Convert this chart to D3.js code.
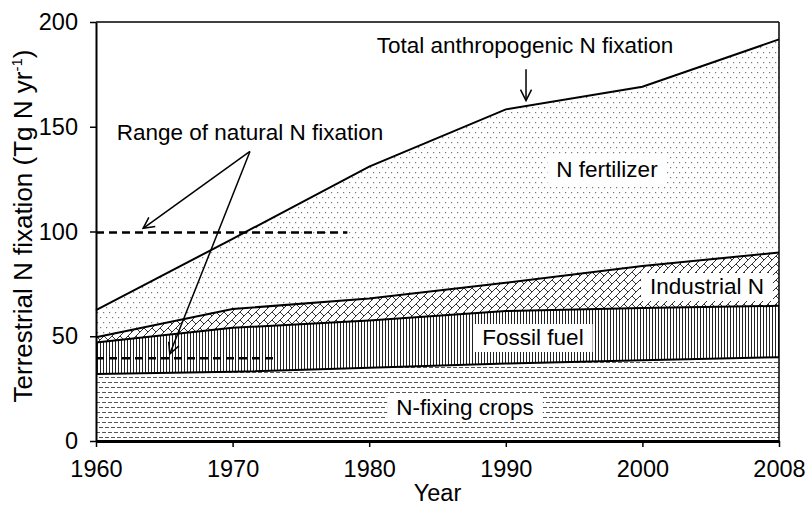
<!DOCTYPE html>
<html>
<head>
<meta charset="utf-8">
<script src="https://cdn.jsdelivr.net/npm/d3@7"></script>
<style>
  html, body { margin: 0; padding: 0; background: #fff; }
  svg { display: block; }
  text { font-family: "Liberation Sans", Arial, sans-serif; fill: #000; }
</style>
</head>
<body>
<svg id="chart" width="806" height="508"></svg>
<script>
// ---------- data ----------
const years = ["1960", "1970", "1980", "1990", "2000", "2008"];
const nFixingCrops = [32, 33, 35, 37, 38.5, 40];
const fossilFuel   = [15, 21, 22.5, 25, 25, 24.5];
const industrialN  = [2.5, 9, 10.5, 13.5, 20, 25.5];
const nFertilizer  = [13, 33.5, 63, 82.8, 85.6, 101.7];
const yTicks = [0, 50, 100, 150, 200];
// natural N fixation range (value, extent in year-index units)
const naturalLevels = [99.5, 39.5];
const naturalExtent = [1.84, 1.33];

// ---------- layout ----------
const svg = d3.select("#chart");
const mLeft = 96, mRight = 779, mTop = 22, mBottom = 441;
const FONT = 22.5, TICKFONT = 23.5, TITLEFONT = 26;

const xi = d3.scaleLinear().domain([0, years.length - 1]).range([mLeft, mRight]);
const y = d3.scaleLinear().domain([0, 200]).range([mBottom, mTop]);

const table = years.map((yr, i) => ({
  i, year: yr,
  crops: nFixingCrops[i], fossil: fossilFuel[i],
  industrial: industrialN[i], fertilizer: nFertilizer[i]
}));
const keys = ["crops", "fossil", "industrial", "fertilizer"];
const stacked = d3.stack().keys(keys)(table);

// ---------- patterns ----------
const defs = svg.append("defs");
const pCrops = defs.append("pattern").attr("id", "pCrops")
  .attr("patternUnits", "userSpaceOnUse").attr("width", 6).attr("height", 10);
pCrops.append("rect").attr("width", 6).attr("height", 10).attr("fill", "#fff");
pCrops.append("line").attr("x1", 0).attr("x2", 4).attr("y1", 2.5).attr("y2", 2.5)
  .attr("stroke", "#555").attr("stroke-width", 1);
pCrops.append("line").attr("x1", 3).attr("x2", 7).attr("y1", 7.5).attr("y2", 7.5)
  .attr("stroke", "#555").attr("stroke-width", 1);
pCrops.append("line").attr("x1", -3).attr("x2", 1).attr("y1", 7.5).attr("y2", 7.5)
  .attr("stroke", "#555").attr("stroke-width", 1);

const pFossil = defs.append("pattern").attr("id", "pFossil")
  .attr("patternUnits", "userSpaceOnUse").attr("width", 3).attr("height", 3);
pFossil.append("rect").attr("width", 3).attr("height", 3).attr("fill", "#fff");
pFossil.append("line").attr("x1", 1.5).attr("x2", 1.5).attr("y1", 0).attr("y2", 3)
  .attr("stroke", "#222").attr("stroke-width", 1);

const pInd = defs.append("pattern").attr("id", "pInd")
  .attr("patternUnits", "userSpaceOnUse").attr("width", 8).attr("height", 8);
pInd.append("rect").attr("width", 8).attr("height", 8).attr("fill", "#fff");
pInd.append("path").attr("d", "M-1,9 L9,-1 M-1,1 L1,-1 M7,9 L9,7 M0,0 L4,4")
  .attr("stroke", "#333").attr("stroke-width", 1).attr("fill", "none");

const pFert = defs.append("pattern").attr("id", "pFert")
  .attr("patternUnits", "userSpaceOnUse").attr("width", 6).attr("height", 10);
pFert.append("rect").attr("width", 6).attr("height", 10).attr("fill", "#fff");
pFert.append("rect").attr("x", 1).attr("y", 2).attr("width", 1.2).attr("height", 1.2).attr("fill", "#777");
pFert.append("rect").attr("x", 4).attr("y", 7).attr("width", 1.2).attr("height", 1.2).attr("fill", "#777");

const fills = { crops: "url(#pCrops)", fossil: "url(#pFossil)", industrial: "url(#pInd)", fertilizer: "url(#pFert)" };

// ---------- areas ----------
const area = d3.area().x(d => xi(d.data.i)).y0(d => y(d[0])).y1(d => y(d[1]));
svg.append("g").selectAll("path").data(stacked).join("path")
  .attr("d", area).attr("fill", d => fills[d.key]).attr("stroke", "none");

const topLine = d3.line().x(d => xi(d.data.i)).y(d => y(d[1]));
svg.append("g").selectAll("path").data(stacked).join("path")
  .attr("d", topLine).attr("fill", "none").attr("stroke", "#000").attr("stroke-width", 2);

// ---------- natural range dashed lines ----------
svg.append("g").selectAll("line").data(naturalLevels).join("line")
  .attr("x1", xi(0)).attr("x2", (d, i) => xi(naturalExtent[i]))
  .attr("y1", d => y(d)).attr("y2", d => y(d))
  .attr("stroke", "#000").attr("stroke-width", 2.5).attr("stroke-dasharray", "8,5");

// ---------- labels ----------
const labels = [
  { text: "N fertilizer", x: 607, y: 177, box: true },
  { text: "Industrial N", x: 707, y: 294, box: true },
  { text: "Fossil fuel", x: 533, y: 345, box: true },
  { text: "N-fixing crops", x: 465, y: 415, box: true },
  { text: "Total anthropogenic N fixation", x: 525, y: 53, box: false },
  { text: "Range of natural N fixation", x: 250, y: 140, box: false }
];
const lg = svg.append("g");
labels.forEach(l => {
  const t = lg.append("text").attr("x", l.x).attr("y", l.y)
    .attr("text-anchor", "middle").attr("font-size", FONT).text(l.text);
  if (l.box) {
    const bb = t.node().getBBox();
    lg.insert("rect", "text").attr("x", bb.x - 9).attr("y", bb.y - 1)
      .attr("width", bb.width + 18).attr("height", bb.height + 3).attr("fill", "#fff");
  }
});

// ---------- arrows ----------
defs.append("marker").attr("id", "arr").attr("viewBox", "-12 -7 14 14")
  .attr("refX", 0).attr("refY", 0).attr("markerWidth", 14).attr("markerHeight", 14)
  .attr("markerUnits", "userSpaceOnUse").attr("orient", "auto")
  .append("path").attr("d", "M-11,-5.5 L0,0 L-11,5.5").attr("fill", "none")
  .attr("stroke", "#000").attr("stroke-width", 1.5);

const arrows = [
  { from: [3.148, 177.5], to: [3.148, 162.5] },
  { from: [1.127, 138.2], to: [0.345, 101.5] },
  { from: [1.127, 138.2], to: [0.54, 41.5] }
];
svg.append("g").selectAll("line").data(arrows).join("line")
  .attr("x1", d => xi(d.from[0])).attr("y1", d => y(d.from[1]))
  .attr("x2", d => xi(d.to[0])).attr("y2", d => y(d.to[1]))
  .attr("stroke", "#000").attr("stroke-width", 1.5).attr("marker-end", "url(#arr)");

// ---------- frame & axes ----------
svg.append("line").attr("x1", mLeft).attr("x2", mRight).attr("y1", mTop).attr("y2", mTop)
  .attr("stroke", "#000").attr("stroke-width", 1.5);
svg.append("line").attr("x1", mRight).attr("x2", mRight).attr("y1", mTop).attr("y2", mBottom)
  .attr("stroke", "#000").attr("stroke-width", 1.5);

const yAxis = svg.append("g").attr("transform", `translate(${mLeft},0)`)
  .call(d3.axisLeft(y).tickValues(yTicks).tickSize(6).tickPadding(12).tickSizeOuter(0));
yAxis.select(".domain").attr("stroke-width", 2);
yAxis.selectAll(".tick line").attr("stroke-width", 1.5);
yAxis.selectAll("text").attr("font-size", TICKFONT).attr("font-family", "Liberation Sans, Arial, sans-serif");

const xAxis = svg.append("g").attr("transform", `translate(0,${mBottom})`)
  .call(d3.axisBottom(xi).tickValues(d3.range(years.length)).tickFormat(i => years[i])
    .tickSize(6).tickPadding(13).tickSizeOuter(0));
xAxis.select(".domain").attr("stroke-width", 3);
xAxis.selectAll(".tick line").attr("stroke-width", 1.5);
xAxis.selectAll("text").attr("font-size", TICKFONT).attr("font-family", "Liberation Sans, Arial, sans-serif");

svg.append("text").attr("x", (mLeft + mRight) / 2).attr("y", 501)
  .attr("text-anchor", "middle").attr("font-size", TICKFONT).text("Year");

const yt = svg.append("text").attr("transform", `translate(32,226) rotate(-90)`)
  .attr("text-anchor", "middle").attr("font-size", TITLEFONT);
yt.append("tspan").text("Terrestrial N fixation (Tg N yr");
yt.append("tspan").attr("font-size", 15).attr("dy", -10).text("-1");
yt.append("tspan").attr("dy", 10).text(")");
</script>
</body>
</html>
